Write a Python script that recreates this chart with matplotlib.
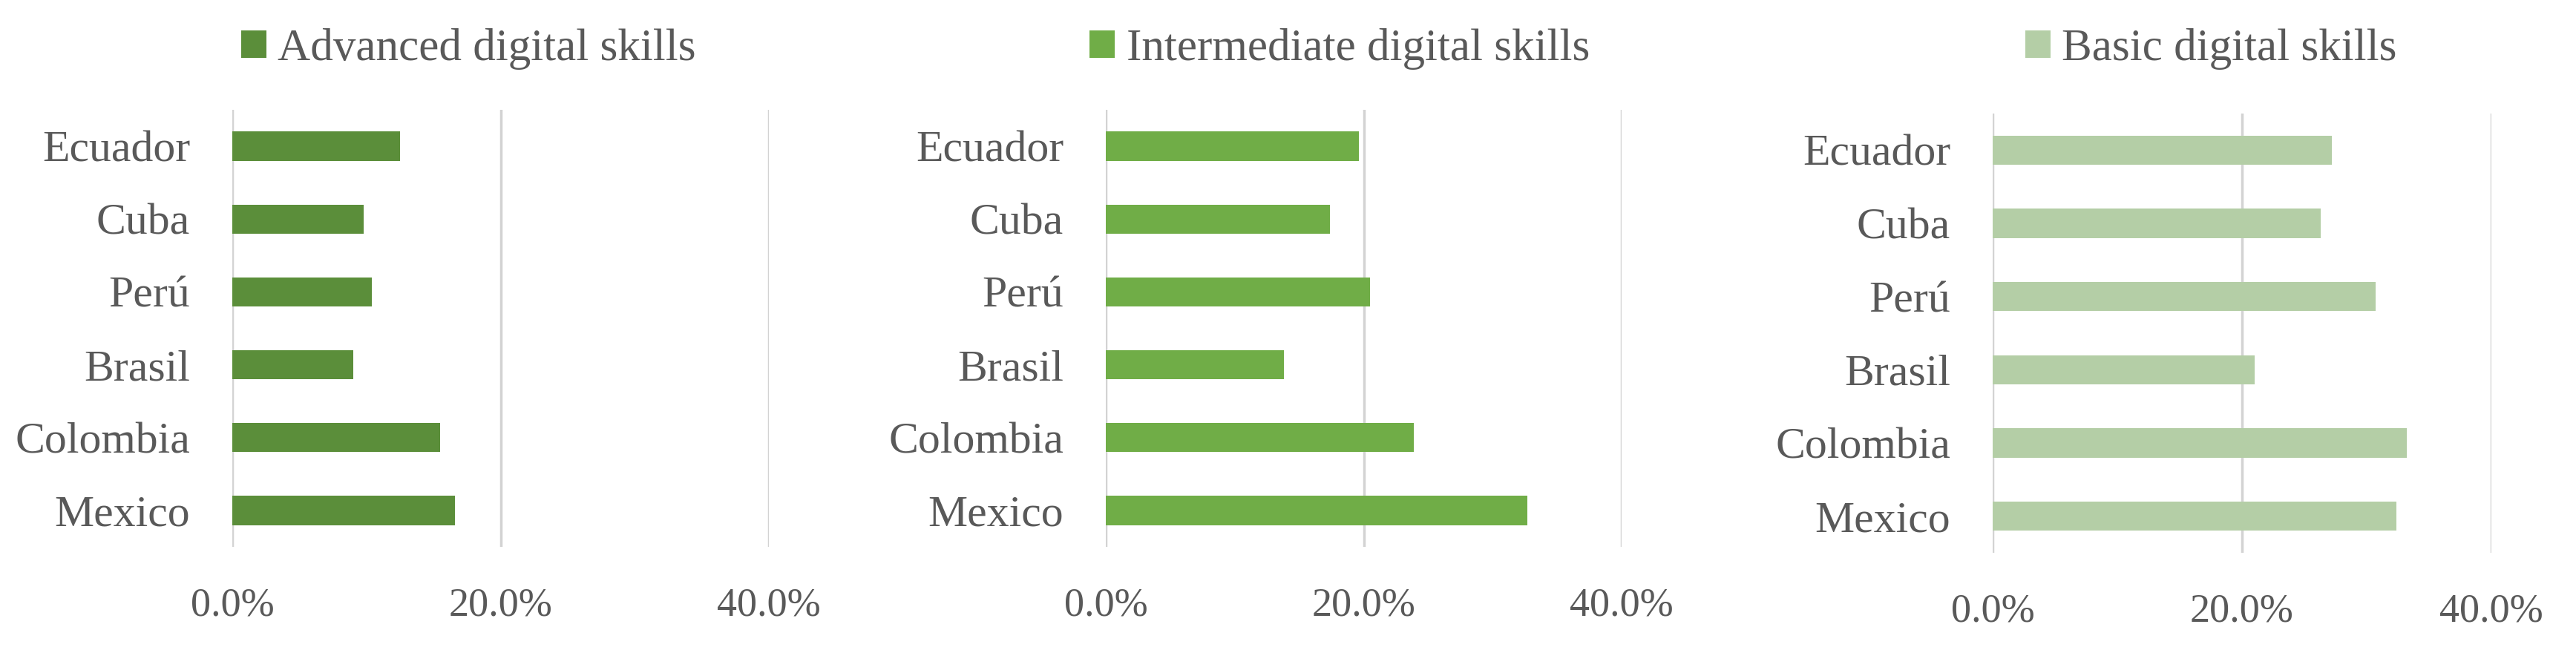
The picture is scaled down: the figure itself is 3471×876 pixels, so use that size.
import numpy as np
import matplotlib
matplotlib.use("Agg")
import matplotlib.pyplot as plt
from matplotlib.ticker import PercentFormatter

# Datos (de abajo hacia arriba, como en barh)
countries = ["Mexico", "Colombia", "Brasil", "Perú", "Cuba", "Ecuador"]
advanced = [16.6, 15.5, 9.0, 10.4, 9.8, 12.5]
intermediate = [32.7, 23.9, 13.8, 20.5, 17.4, 19.6]
basic = [32.4, 33.2, 21.0, 30.7, 26.3, 27.2]
series_names = ["Advanced digital skills", "Intermediate digital skills", "Basic digital skills"]
xticks = [0.0, 0.2, 0.4]

colors = ["#5B8E3A", "#70AD47", "#B4CEA6"]
text_color = "#595959"
grid_color = "#D3D3D3"

plt.rcParams["font.family"] = ["Liberation Serif", "DejaVu Serif"]

W, H = 3471, 876
fig = plt.figure(figsize=(W / 100, H / 100), dpi=100)

# Posiciones de cada panel en pixeles: left, right, top, bottom
boxes = [(313, 1036, 148, 737), (1490, 2185, 148, 737), (2685, 3357, 153, 745)]
legend_x = [325, 1468, 2729]

y = np.arange(len(countries))
for i, vals in enumerate([advanced, intermediate, basic]):
    l, r, t, b = boxes[i]
    ax = fig.add_axes([l / W, 1 - b / H, (r - l) / W, (b - t) / H])
    ax.barh(y, np.array(vals) / 100, height=0.4, color=colors[i],
            label=series_names[i], zorder=3)
    ax.set_xlim(0, 0.4)
    ax.set_ylim(-0.5, len(countries) - 0.5)
    ax.set_xticks(xticks)
    ax.xaxis.set_major_formatter(PercentFormatter(xmax=1, decimals=1))
    ax.set_yticks(y)
    ax.set_yticklabels(countries)
    ax.grid(axis="x", color=grid_color, linewidth=2.5, zorder=0)
    for s in ax.spines.values():
        s.set_visible(False)
    ax.tick_params(axis="y", length=0, pad=41, labelsize=43, labelcolor=text_color)
    ax.tick_params(axis="x", length=0, pad=39, labelsize=39, labelcolor=text_color)
    ax.legend(loc="center left", bbox_to_anchor=(legend_x[i] / W, 1 - 66 / H),
              bbox_transform=fig.transFigure, frameon=False, borderpad=0,
              borderaxespad=0, fontsize=44, handlelength=0.56, handleheight=0.56,
              handletextpad=0.25, labelcolor=text_color)

fig.savefig("out.png", dpi=100, facecolor="white")
